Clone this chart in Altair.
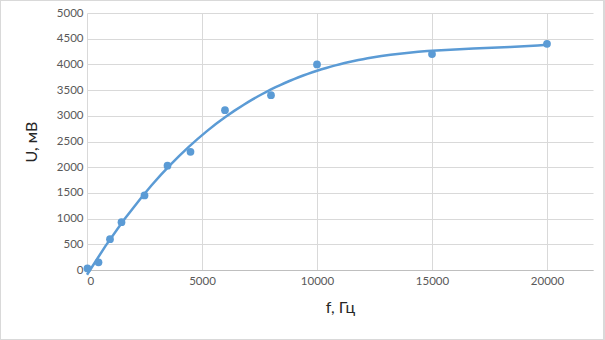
import altair as alt
import pandas as pd

freq = [20, 500, 1000, 1500, 2500, 3500, 4500, 6000, 8000, 10000, 15000, 20000]
volt = [30, 150, 600, 930, 1450, 2030, 2300, 3110, 3400, 4000, 4200, 4400]

df = pd.DataFrame({"f": freq, "U": volt})
color = "#5B9BD5"
font = "Lato"

x = alt.X("f:Q", title="f, Гц",
          scale=alt.Scale(domain=[0, 22000], nice=False),
          axis=alt.Axis(values=[0, 5000, 10000, 15000, 20000], format="d"))
y = alt.Y("U:Q", title="U, мВ",
          scale=alt.Scale(domain=[0, 5000], nice=False),
          axis=alt.Axis(values=list(range(0, 5001, 500)), format="d"))

border = alt.Chart(df).mark_rect(fill=None, stroke="#d9d9d9", strokeWidth=1).encode(
    x=alt.value(-86.5), x2=alt.value(517), y=alt.value(-12.5), y2=alt.value(326.5)
)

pts = alt.Chart(df).mark_circle(size=60, color=color, opacity=1).encode(x=x, y=y)

trend = alt.Chart(df).transform_regression(
    "f", "U", method="poly", order=3, extent=[0, 20000]
).mark_line(color=color, strokeWidth=2.5).encode(x=x, y=y)

chart = alt.layer(border, trend, pts).properties(
    width=506, height=257,
    autosize=alt.AutoSizeParams(type="none"),
    padding={"left": 87, "top": 13, "right": 12, "bottom": 70},
).configure_view(stroke=None).configure_axis(
    grid=True, gridColor="#d9d9d9", gridWidth=1,
    domain=False, ticks=False,
    labelFont=font, labelFontSize=11.5, labelColor="#595959",
    titleFont=font, titleFontSize=16, titleColor="#262626", titleFontWeight="normal",
).configure_axisX(
    domain=True, domainColor="#bfbfbf", labelPadding=5, titlePadding=13
).configure_axisY(
    labelPadding=4, titlePadding=17
)

chart.save("out.html", embed_options={"renderer": "svg", "actions": False})
